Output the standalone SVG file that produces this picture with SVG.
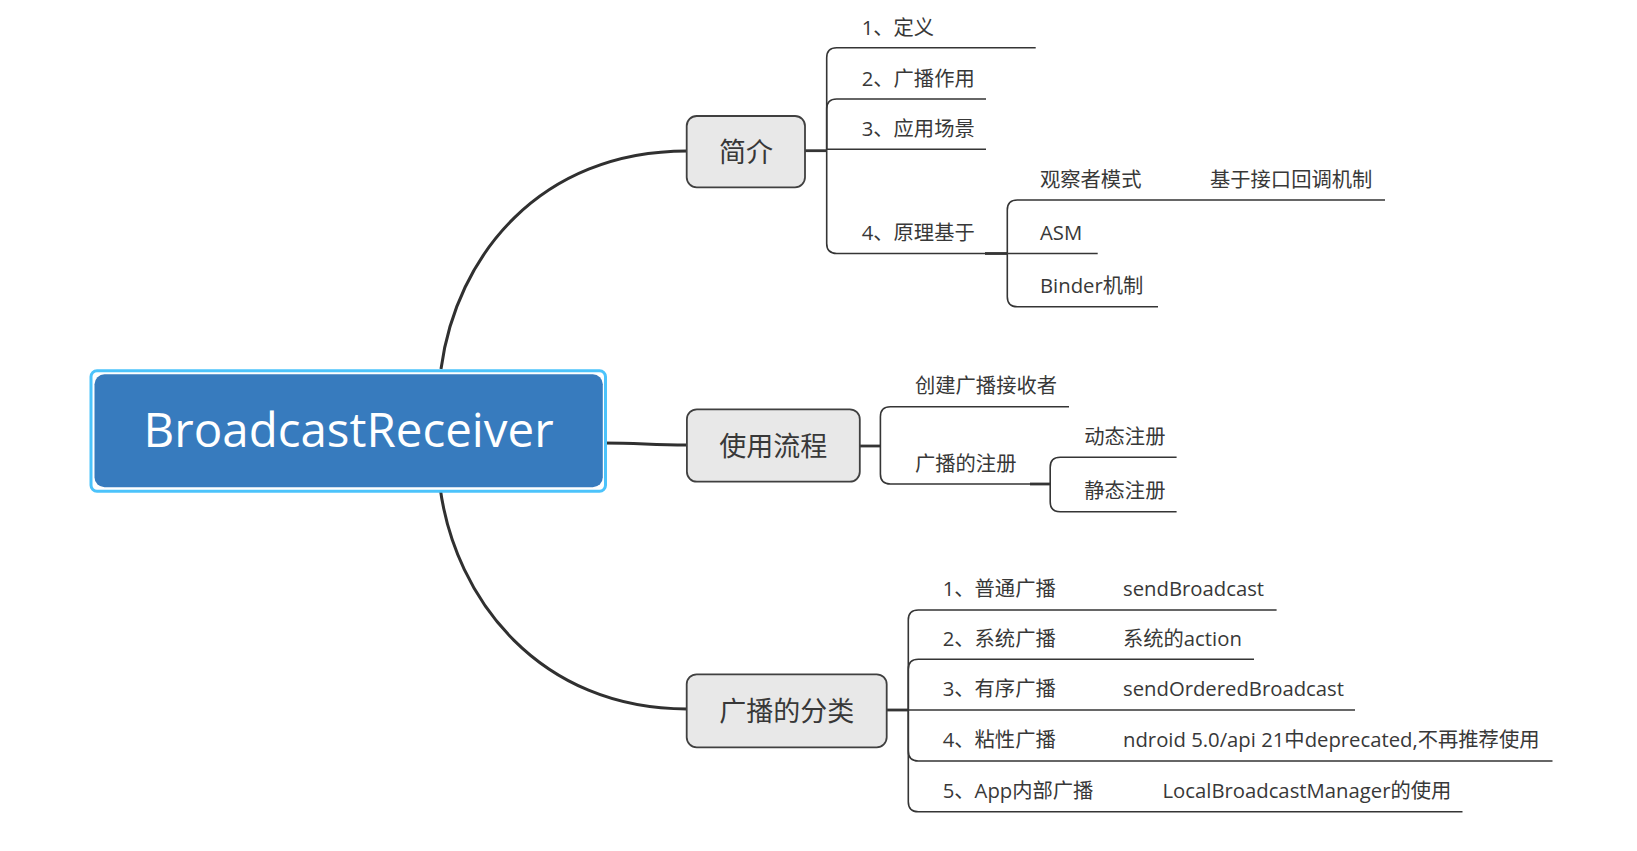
<svg xmlns="http://www.w3.org/2000/svg" width="1637" height="851" viewBox="0 0 1637 851">
<style>
text{font-family:"Open Sans","Noto Sans CJK SC",sans-serif;fill:#383838}
.t{font-size:20.3px}
.m{font-size:27px;text-anchor:middle}
.box{fill:#e8e8e8;stroke:#404040;stroke-width:1.8}
.ln{fill:none;stroke:#353535;stroke-width:1.6}
.cn{fill:none;stroke:#353535;stroke-width:2.8}
.br{fill:none;stroke:#303030;stroke-width:3}
</style>
<rect width="1637" height="851" fill="#ffffff"/>
<g id="connectors">
<path class="br" d="M441,369 C456,256 540,151 687,151"/>
<path class="br" d="M603,443 C640,443 650,445 687,445"/>
<path class="br" d="M440,487 C455,600 540,709 687,709"/>
<path class="cn" d="M805,150.7 H826.7"/>
<path class="ln" d="M826.7,150 V57.7 Q826.7,47.7 836.7,47.7 H1035.7"/>
<path class="ln" d="M826.7,150 V109 Q826.7,99 836.7,99 H986"/>
<path class="ln" d="M826.7,149.3 H986"/>
<path class="ln" d="M826.7,150 V243.5 Q826.7,253.5 836.7,253.5 H1007.3"/>
<path class="cn" d="M985,253.5 H1007.3"/>
<path class="ln" d="M1007.3,253.5 V210 Q1007.3,200 1017.3,200 H1385"/>
<path class="ln" d="M1007.3,253.5 H1097.7"/>
<path class="ln" d="M1007.3,253.5 V296.7 Q1007.3,306.7 1017.3,306.7 H1158"/>
<path class="cn" d="M859.8,446 H880.4"/>
<path class="ln" d="M880.4,446 V416.7 Q880.4,406.7 890.4,406.7 H1069"/>
<path class="ln" d="M880.4,446 V474 Q880.4,484 890.4,484 H1050.2"/>
<path class="cn" d="M1030,484 H1050.2"/>
<path class="ln" d="M1050.2,484 V467.3 Q1050.2,457.3 1060.2,457.3 H1176.6"/>
<path class="ln" d="M1050.2,484 V501.7 Q1050.2,511.7 1060.2,511.7 H1176.6"/>
<path class="cn" d="M886.7,710 H908.3"/>
<path class="ln" d="M908.3,710 V620 Q908.3,610 918.3,610 H1276.6"/>
<path class="ln" d="M908.3,710 V669.3 Q908.3,659.3 918.3,659.3 H1254"/>
<path class="ln" d="M908.3,710 H1355"/>
<path class="ln" d="M908.3,710 V751 Q908.3,761 918.3,761 H1552.5"/>
<path class="ln" d="M908.3,710 V801.7 Q908.3,811.7 918.3,811.7 H1462.5"/>
</g>
<g id="root">
<rect x="91" y="370.8" width="514.5" height="120.5" rx="6" fill="#ffffff" stroke="#4cc3fb" stroke-width="3"/>
<rect x="94.5" y="374.2" width="508.3" height="113" rx="10" fill="#377bbe"/>
<text x="348.6" y="447.3" font-size="47.5" text-anchor="middle" style="fill:#ffffff">BroadcastReceiver</text>
</g>
<g id="node-intro">
<rect class="box" x="686.7" y="116" width="118.3" height="71.3" rx="10"/>
<text class="m" x="746" y="162">简介</text>
</g>
<g id="node-intro-children">
<text class="t" x="861.7" y="34.6">1、定义</text>
<text class="t" x="861.7" y="85.5">2、广播作用</text>
<text class="t" x="861.7" y="135.8">3、应用场景</text>
<text class="t" x="861.7" y="239.8">4、原理基于</text>
<text class="t" x="1040" y="186.5">观察者模式</text>
<text class="t" x="1210" y="186.5">基于接口回调机制</text>
<text class="t" x="1040" y="240.3">ASM</text>
<text class="t" x="1040" y="293.2">Binder机制</text>
</g>
<g id="node-flow">
<rect class="box" x="686.9" y="409.3" width="172.9" height="72.4" rx="10"/>
<text class="m" x="773.3" y="455.8">使用流程</text>
</g>
<g id="node-flow-children">
<text class="t" x="915" y="393.2">创建广播接收者</text>
<text class="t" x="915" y="470.5">广播的注册</text>
<text class="t" x="1084.3" y="443.8">动态注册</text>
<text class="t" x="1084.3" y="498.2">静态注册</text>
</g>
<g id="node-types">
<rect class="box" x="686.7" y="674.3" width="200" height="73" rx="10"/>
<text class="m" x="786.7" y="721">广播的分类</text>
</g>
<g id="node-types-children">
<text class="t" x="942.7" y="596">1、普通广播</text>
<text class="t" x="1123" y="596">sendBroadcast</text>
<text class="t" x="942.7" y="645.8">2、系统广播</text>
<text class="t" x="1123" y="645.8">系统的action</text>
<text class="t" x="942.7" y="696.3">3、有序广播</text>
<text class="t" x="1123" y="696.3">sendOrderedBroadcast</text>
<text class="t" x="942.7" y="747.3">4、粘性广播</text>
<text class="t" x="1123" y="747.3">ndroid 5.0/api 21中deprecated,不再推荐使用</text>
<text class="t" x="942.7" y="798">5、App内部广播</text>
<text class="t" x="1162.5" y="798">LocalBroadcastManager的使用</text>
</g>
</svg>
